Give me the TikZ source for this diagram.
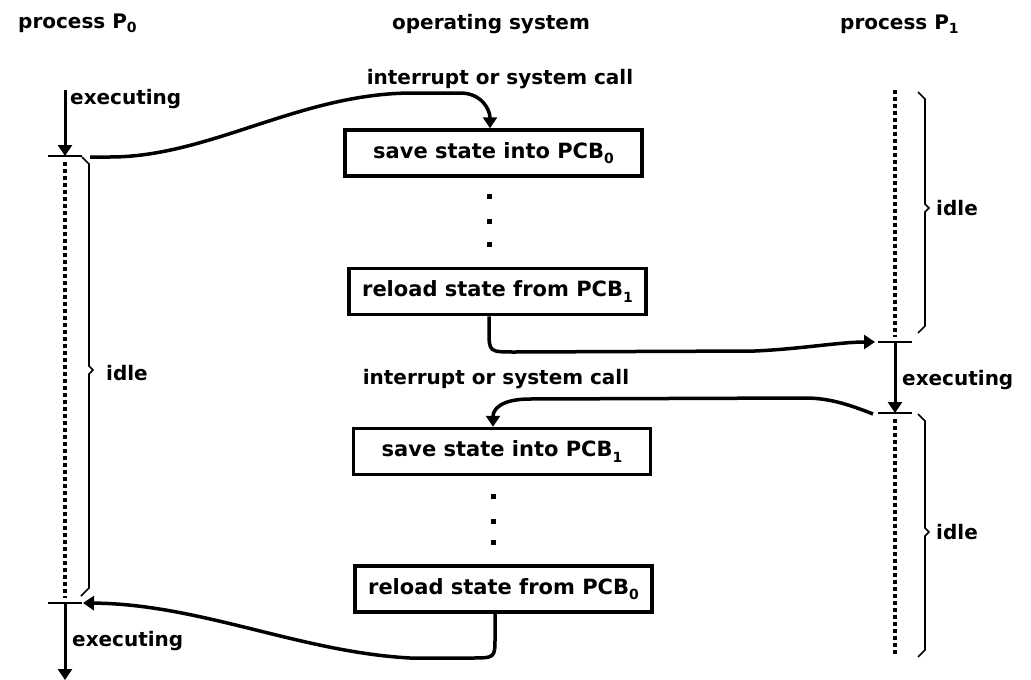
\documentclass[tikz,border=0pt]{standalone}
\usepackage{fontspec}
\setmainfont{DejaVu Sans}
\usetikzlibrary{arrows.meta}
\newcommand\lsub[1]{\raisebox{-0.45ex}{\fontsize{14}{14}\selectfont #1}}
\begin{document}
\begin{tikzpicture}[x=1pt,y=-1pt,
  lbl/.style={inner sep=0pt, font=\fontsize{20}{24}\selectfont\bfseries},
  box/.style={draw, line width=3.5pt, inner sep=0pt, minimum width=297pt, minimum height=46pt, font=\fontsize{21}{24}\selectfont\bfseries},
  tlarrow/.style={line width=3pt, -{Triangle[width=14pt,length=11pt]}},
  tick/.style={line width=1.8pt},
  dots/.style={line width=3.5pt, dash pattern=on 3.5pt off 3.5pt},
  brc/.style={line width=1.6pt, line join=miter},
  conn/.style={line width=3.5pt, -{Triangle[width=14pt,length=11pt]}},
  osdot/.style={fill=black}
]
\fill[white] (0,0) rectangle (1031,680);
\useasboundingbox (0,0) rectangle (1031,680);

% titles
\node[lbl, anchor=base west] (p0t) at (18,28) {process P\lsub0};
\node[lbl, anchor=base] (ost) at (491,29) {operating system};
\node[lbl, anchor=base west] (p1t) at (840,29) {process P\lsub1};

% OS labels
\node[lbl, anchor=base] (int1) at (500,84) {interrupt or system call};
\node[lbl, anchor=base] (int2) at (496,384) {interrupt or system call};

% boxes
\node[box] (b1) at (493.5,153) {save state into PCB\lsub0};
\node[box] (b2) at (497.5,291.5) {reload state from PCB\lsub1};
\node[box] (b3) at (502,451.5) {save state into PCB\lsub1};
\node[box] (b4) at (503.5,589) {reload state from PCB\lsub0};

% OS dots
\foreach \yy in {194,219,242} \fill[osdot] (486.5,\yy) rectangle ++(5,5);
\foreach \yy in {494,519,540} \fill[osdot] (490.5,\yy) rectangle ++(5,5);

% process P0 timeline
\coordinate (p0top) at (65,90);
\coordinate (p0t1) at (65,156);
\coordinate (p0t2) at (65,603);
\coordinate (p0end) at (65,680);
\draw[tlarrow] (p0top) -- (p0t1);
\draw[tick] ([xshift=-17pt]p0t1) -- ([xshift=17pt]p0t1);
\draw[dots] (65,162) -- (65,598);
\draw[tick] ([xshift=-17pt]p0t2) -- ([xshift=17pt]p0t2);
\draw[tlarrow] (p0t2) -- (p0end);
\node[lbl, anchor=base west] (ex0a) at (70,104) {executing};
\node[lbl, anchor=base west] (ex0b) at (72,646) {executing};
\draw[brc] (82,157) -- (89,164) -- (89,366) -- (93,370) -- (89,374) -- (89,588) -- (81,596);
\node[lbl, anchor=base west] (idle0) at (106,380) {idle};

% process P1 timeline
\coordinate (p1top) at (895,90);
\coordinate (p1t1) at (895,342);
\coordinate (p1t2) at (895,413);
\draw[dots] (p1top) -- (895,337);
\draw[tick] ([xshift=-17pt]p1t1) -- ([xshift=17pt]p1t1);
\draw[tlarrow] (p1t1) -- (p1t2);
\draw[tick] ([xshift=-17pt]p1t2) -- ([xshift=17pt]p1t2);
\draw[dots] (895,419) -- (895,656);
\node[lbl, anchor=base west] (ex1) at (902,385) {executing};
\draw[brc] (918,92) -- (925,99) -- (925,204) -- (929,208) -- (925,212) -- (925,326) -- (918,333);
\draw[brc] (918,414) -- (925,421) -- (925,528) -- (929,532) -- (925,536) -- (925,650) -- (918,657);
\node[lbl, anchor=base west] (idle1a) at (936,215) {idle};
\node[lbl, anchor=base west] (idle1b) at (936,539) {idle};

% connectors
\draw[conn] ([xshift=25pt,yshift=-1pt]p0t1) -- (110,157) .. controls (210,157) and (300,93) .. (413,93) -- (460,93) .. controls (482,93) and (490,110) .. ([xshift=-3.5pt]b1.north);
\draw[conn] ([xshift=-8.5pt]b2.south) -- (489,330) .. controls (489,352) .. (515,352) -- (755,351) .. controls (800,349) and (840,342) .. ([xshift=-20pt]p1t1);
\draw[conn] ([xshift=-22pt,yshift=-1pt]p1t2) .. controls (850,405) and (830,398) .. (805,398) -- (530,399) .. controls (500,399) and (493,410) .. ([xshift=-9pt]b3.north);
\draw[conn] ([xshift=-8.5pt]b4.south) -- (495,638) .. controls (495,658) .. (470,658) -- (410,658) .. controls (300,652) and (200,604) .. ([xshift=18pt]p0t2);
\end{tikzpicture}
\end{document}
